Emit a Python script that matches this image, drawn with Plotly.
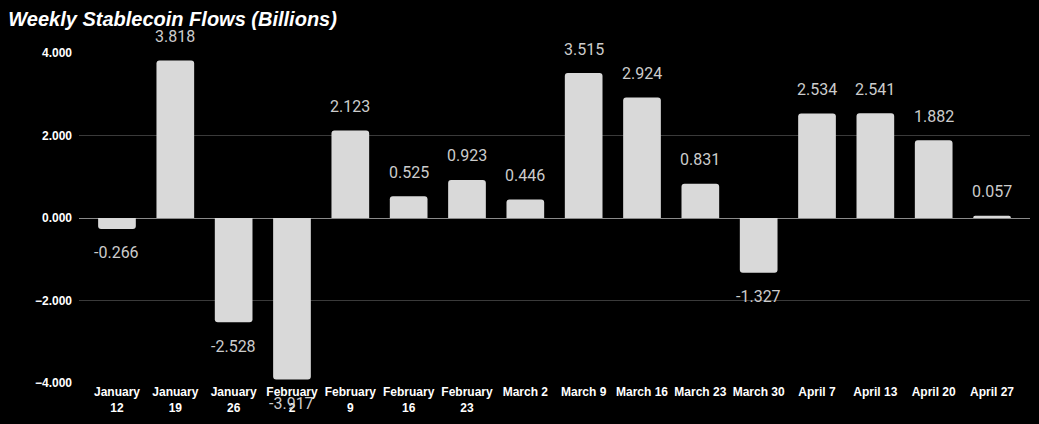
import plotly.graph_objects as go

weeks = ["January<br>12", "January<br>19", "January<br>26", "February<br>2", "February<br>9",
         "February<br>16", "February<br>23", "March 2", "March 9", "March 16", "March 23",
         "March 30", "April 7", "April 13", "April 20", "April 27"]
flows = [-0.266, 3.818, -2.528, -3.917, 2.123, 0.525, 0.923, 0.446, 3.515, 2.924, 0.831,
         -1.327, 2.534, 2.541, 1.882, 0.057]
labels = [f"{v:.3f}" for v in flows]

fig = go.Figure(go.Bar(
    x=weeks, y=flows,
    marker=dict(color="#d9d9d9", line=dict(width=0)),
    cliponaxis=False, width=0.646,
))

for w, v, t in zip(weeks, flows, labels):
    fig.add_annotation(x=w, y=v, text=t, showarrow=False, yanchor="middle",
                       yshift=24 if v >= 0 else -24,
                       font=dict(family="Roboto, Arial", size=16, color="#cccccc"))

fig.update_layout(
    width=1039, height=424,
    paper_bgcolor="black", plot_bgcolor="black",
    margin=dict(l=79, r=9, t=53, b=41),
    barcornerradius=3,
    showlegend=False,
    title=dict(text="<b><i>Weekly Stablecoin Flows (Billions)</i></b>",
               x=0.008, xanchor="left", y=0.955, yanchor="middle",
               font=dict(family="Liberation Sans, Arial", size=20, color="white")),
    xaxis=dict(tickfont=dict(family="Liberation Sans, Arial", size=12, color="white", weight="bold"),
               showgrid=False, showline=False, ticks="", tickangle=0,
               range=[-0.651, len(weeks) - 1 + 0.651]),
    yaxis=dict(range=[-4, 4], tickvals=[-4, -2, 0, 2, 4], tickformat=".3f",
               tickfont=dict(family="Liberation Sans, Arial", size=12, color="white", weight="bold"),
               gridcolor="#3a3a3a", gridwidth=1, zeroline=True, zerolinecolor="#8a8a8a",
               zerolinewidth=1, showline=False, ticks="", ticklabelstandoff=6),
)

fig.write_html("out.html", config={"displayModeBar": False},
               post_script="document.body.style.margin='0';document.body.style.background='black';")
